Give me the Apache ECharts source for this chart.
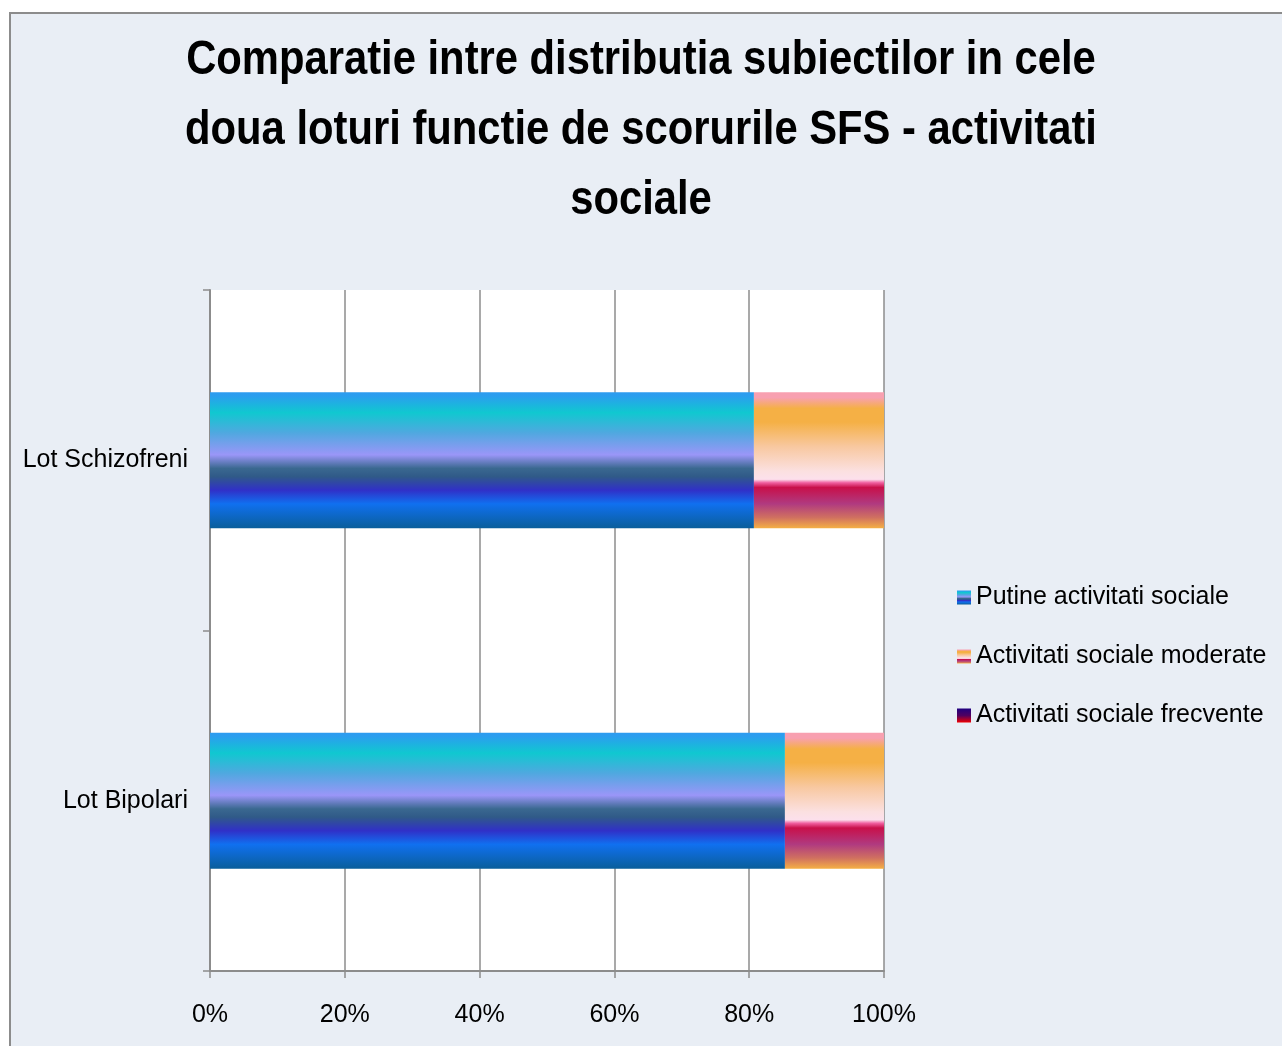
<!DOCTYPE html>
<html>
<head>
<meta charset="utf-8">
<script src="https://cdn.jsdelivr.net/npm/echarts@6/dist/echarts.min.js"></script>
<style>
html,body{margin:0;padding:0;background:#ffffff;width:1282px;height:1046px;overflow:hidden;}
#frame{position:absolute;left:9px;top:12px;width:1300px;height:1100px;background:#E9EEF5;border-left:2px solid #8C8C8C;border-top:2px solid #8C8C8C;}
#chart{position:absolute;left:0;top:0;width:1282px;height:1046px;}
</style>
</head>
<body>
<div id="frame"></div>
<div id="chart"></div>
<script>
const titleText = 'Comparatie intre distributia subiectilor in cele\ndoua loturi functie de scorurile SFS - activitati\nsociale';
const categories = ['Lot Schizofreni', 'Lot Bipolari'];
const seriesNames = ['Putine activitati sociale', 'Activitati sociale moderate', 'Activitati sociale frecvente'];
const putine = [80.7, 85.3];
const moderate = [19.3, 14.7];
const frecvente = [0, 0];
const xTicks = [0, 20, 40, 60, 80, 100];

const G = (stops) => new echarts.graphic.LinearGradient(0, 0, 0, 1, stops.map(s => ({offset: s[0], color: s[1]})));

const blueGrad = G([
  [0, '#2E9BF0'], [0.03, '#2A9FEE'], [0.15, '#10C8D0'], [0.30, '#50A8E0'],
  [0.46, '#9A96F8'], [0.56, '#3A6890'], [0.62, '#305A88'], [0.72, '#3030C8'],
  [0.82, '#1070F0'], [1, '#0A5E9A']
]);
const orangeGrad = G([
  [0, '#F8A0B0'], [0.04, '#F8A0B0'], [0.12, '#F5B045'], [0.22, '#F5B045'],
  [0.40, '#F8C8A0'], [0.58, '#FBE0E0'], [0.64, '#FCE0EC'], [0.665, '#F060A0'],
  [0.70, '#C8104A'], [0.82, '#B03A80'], [0.92, '#D07060'], [1, '#F5B045']
]);
const redGrad = G([[0, '#200080'], [0.5, '#500060'], [1, '#F00000']]);

const chart = echarts.init(document.getElementById('chart'), null, {renderer: 'canvas'});
const fontFam = '"Liberation Sans Narrow", "Liberation Sans", "DejaVu Sans Condensed", sans-serif';
chart.setOption({
  backgroundColor: 'transparent',
  animation: false,
  graphic: [{
    type: 'text',
    x: 641, y: 131,
    scaleX: 0.87,
    z: 10,
    style: {
      text: titleText,
      x: 0, y: 0,
      textAlign: 'center',
      textVerticalAlign: 'middle',
      font: 'bold 48px "Liberation Sans", Arial, sans-serif',
      lineHeight: 70,
      fill: '#000'
    }
  }],
  legend: {
    orient: 'vertical',
    left: 952,
    top: 580,
    itemGap: 33,
    itemWidth: 14,
    itemHeight: 14,
    itemGap: 34,
    icon: 'rect',
    data: seriesNames,
    textStyle: {fontFamily: fontFam, fontSize: 25, color: '#000'}
  },
  grid: {
    left: 210, right: 398, top: 290, bottom: 75,
    show: true, backgroundColor: '#ffffff', borderWidth: 0
  },
  xAxis: {
    type: 'value', min: 0, max: 100, interval: 20,
    axisLine: {show: true, lineStyle: {color: '#8C8C8C', width: 2}},
    axisTick: {show: true, length: 7, lineStyle: {color: '#8C8C8C', width: 1.5}},
    splitLine: {show: true, lineStyle: {color: '#8C8C8C', width: 1.5}},
    axisLabel: {formatter: v => xTicks.includes(v) ? v + '%' : '', fontFamily: fontFam, fontSize: 25, color: '#000', margin: 32}
  },
  yAxis: {
    type: 'category', data: categories, inverse: true,
    axisLine: {show: true, lineStyle: {color: '#8C8C8C', width: 2}},
    axisTick: {show: true, length: 7, lineStyle: {color: '#8C8C8C', width: 1.5}},
    axisLabel: {fontFamily: fontFam, fontSize: 25, color: '#000', margin: 22}
  },
  series: [
    {name: seriesNames[0], type: 'bar', stack: 'total', barWidth: '40%', data: putine, itemStyle: {color: blueGrad}},
    {name: seriesNames[1], type: 'bar', stack: 'total', barWidth: '40%', data: moderate, itemStyle: {color: orangeGrad}},
    {name: seriesNames[2], type: 'bar', stack: 'total', barWidth: '40%', data: frecvente, itemStyle: {color: redGrad}}
  ]
});
</script>
</body>
</html>
